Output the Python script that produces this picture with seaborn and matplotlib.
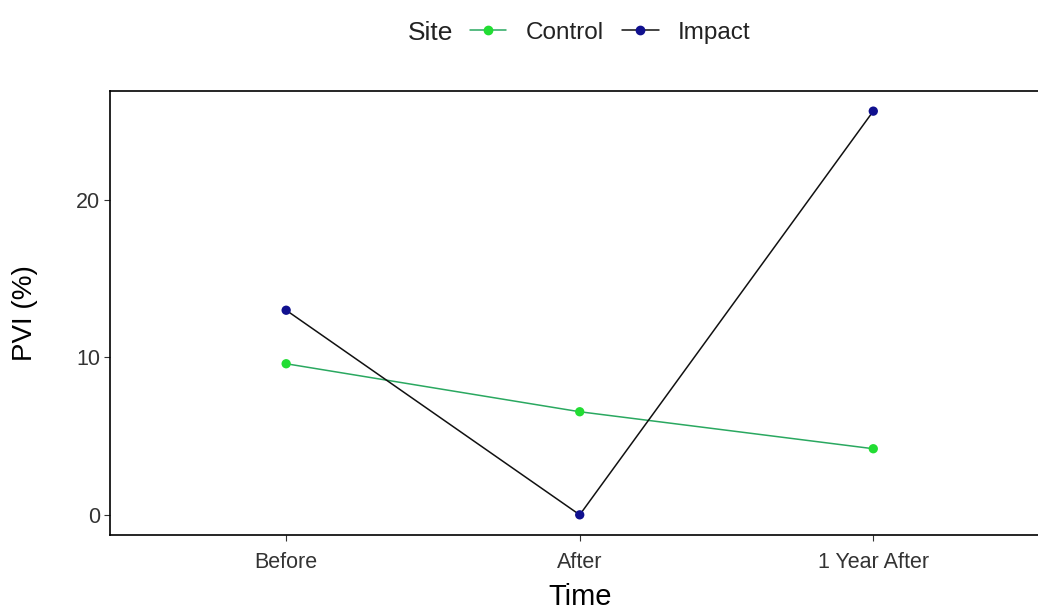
import matplotlib
matplotlib.use("Agg")
import matplotlib.pyplot as plt
import seaborn as sns
import pandas as pd
from matplotlib.lines import Line2D
from matplotlib.offsetbox import HPacker

times = ["Before", "After", "1 Year After"]
control = [9.6, 6.55, 4.2]
impact = [13.0, 0.0, 25.65]
sites = ["Control", "Impact"]

df = pd.DataFrame({
    "Time": times * 2,
    "x": list(range(len(times))) * 2,
    "PVI": control + impact,
    "Site": ["Control"] * len(times) + ["Impact"] * len(times),
})

line_colors = {"Control": "#2aa860", "Impact": "#111111"}
point_colors = {"Control": "#22dd33", "Impact": "#10108f"}

sns.set_theme(style="white")
plt.rcParams["font.family"] = ["Liberation Sans", "DejaVu Sans"]

fig = plt.figure(figsize=(10.38, 6.14), dpi=100)
ax = fig.add_axes([0.106, 0.1287, 0.905, 0.7231])

sns.lineplot(data=df, x="x", y="PVI", hue="Site", palette=line_colors,
             linewidth=1.1, ax=ax, legend=False, sort=False)
sns.scatterplot(data=df, x="x", y="PVI", hue="Site", palette=point_colors,
                s=45, edgecolor="none", ax=ax, legend=False, zorder=3)

ax.set_xlim(-0.6, 2.6)
ax.set_ylim(-1.28, 26.93)
ax.set_xticks(range(len(times)))
ax.set_xticklabels(times)
ax.set_yticks([0, 10, 20])
ax.tick_params(axis="both", which="both", length=4, width=0.8, color="#333333",
               labelsize=15.5, labelcolor="#333333", left=True, bottom=True, pad=3)
ax.tick_params(axis="x", pad=8)
for s in ax.spines.values():
    s.set_color("black")
    s.set_linewidth(1.2)
ax.set_xlabel("Time", fontsize=21, color="black", va="center")
ax.set_ylabel("PVI (%)", fontsize=20, color="black", va="center")
ax.xaxis.set_label_coords(0.5, -0.14)
ax.yaxis.set_label_coords(-0.0905, 0.5)
ax.grid(False)

handles = [Line2D([0], [0], color=line_colors[s], marker="o", markersize=6,
                  markerfacecolor=point_colors[s], markeredgecolor=point_colors[s],
                  linewidth=1.1) for s in sites]
leg = fig.legend(handles, sites, title="Site", loc="center", bbox_to_anchor=(0.558, 0.947),
                 ncol=2, frameon=False, fontsize=17.5, title_fontsize=19,
                 handlelength=1.5, columnspacing=0.75, handletextpad=0.8)
for t in leg.get_texts():
    t.set_color("#222222")
leg.get_title().set_color("#222222")
title_box = leg._legend_title_box
handle_box = leg._legend_handle_box
leg._legend_box._children = [HPacker(pad=0, sep=12, children=[title_box, handle_box], align="center")]

fig.savefig("out.png", dpi=100)
